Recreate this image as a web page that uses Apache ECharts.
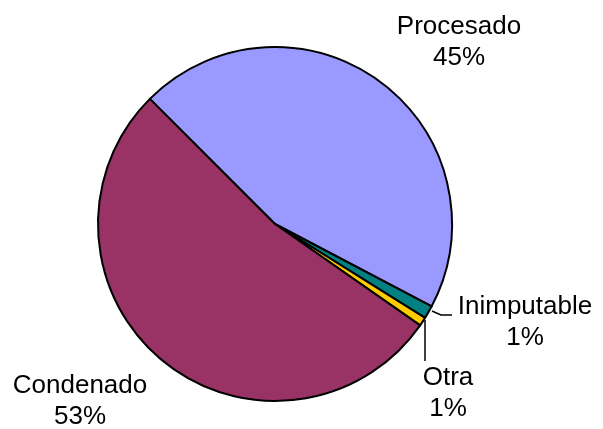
<!DOCTYPE html>
<html lang="es">
<head>
    <meta charset="UTF-8">
    <title>Pie</title>
    <script src="https://cdn.jsdelivr.net/npm/echarts@6/dist/echarts.min.js"></script>
</head>
<body style="margin:0;background:#fff;">
    <div id="pieChart" style="width:603px;height:429px;"></div>
<script>
    // data
    var categories = ['Procesado', 'Inimputable', 'Otra', 'Condenado'];
    var values = [45.2, 1.2, 0.8, 52.8];
    var colors = ['#9999FF', '#008080', '#FFCC00', '#993366'];

    // where the labels sit (Excel style placement)
    var labelSpots = [
        { x: 459, y: 42 },
        { x: 525, y: 322, line: [[432, 311], [441, 315], [452, 315]] },
        { x: 448, y: 393, line: [[425, 320], [425, 340], [425, 361]] },
        { x: 80, y: 401 }
    ];

    var seriesData = categories.map(function (c, i) {
        return {
            name: c,
            value: values[i],
            itemStyle: { color: colors[i] },
            labelLine: { show: !!labelSpots[i].line }
        };
    });

    var chart = echarts.init(document.getElementById('pieChart'));
    chart.setOption({
        animation: false,
        series: [{
            type: 'pie',
            center: [275, 224],
            radius: 177,
            startAngle: 135,
            clockwise: true,
            avoidLabelOverlap: false,
            data: seriesData,
            itemStyle: { borderColor: '#000', borderWidth: 2 },
            label: {
                show: true,
                position: 'outside',
                color: '#000',
                fontFamily: 'Liberation Sans, Arial, sans-serif',
                fontSize: 26,
                lineHeight: 31,
                align: 'center',
                formatter: function (p) {
                    return p.name + '\n' + Math.round(p.percent) + '%';
                }
            },
            labelLine: {
                lineStyle: { color: '#000', width: 1.5 }
            },
            labelLayout: function (p) {
                var s = labelSpots[p.dataIndex];
                var r = { x: s.x, y: s.y, align: 'center', verticalAlign: 'middle' };
                if (s.line) r.labelLinePoints = s.line;
                return r;
            },
            emphasis: { disabled: true }
        }]
    });
</script>
</body>
</html>
